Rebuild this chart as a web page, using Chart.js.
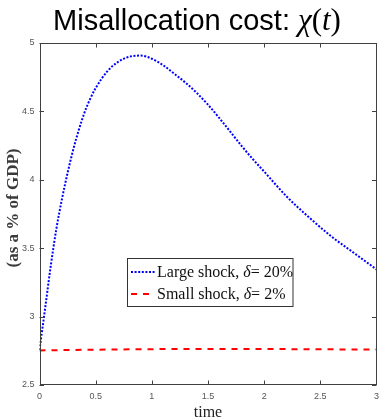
<!DOCTYPE html>
<html>
<head>
<meta charset="utf-8">
<script src="https://cdn.jsdelivr.net/npm/chart.js@4.4.1/dist/chart.umd.min.js"></script>
<style>
  html, body { margin: 0; padding: 0; background: #ffffff; }
  #wrap { width: 385px; height: 420px; }
</style>
</head>
<body>
<div id="wrap"><canvas id="c" width="385" height="420"></canvas></div>
<script>
// ---- data ----
const largeTime  = [0, 0.05, 0.1, 0.15, 0.2, 0.25, 0.3, 0.35, 0.4, 0.45, 0.5, 0.6, 0.7, 0.8, 0.9, 1.0, 1.1, 1.2, 1.3, 1.4, 1.5, 1.6, 1.7, 1.8, 1.9, 2.0, 2.2, 2.4, 2.6, 2.8, 3.0];
const largeValue = [2.756, 3.06, 3.37, 3.64, 3.86, 4.05, 4.22, 4.365, 4.49, 4.59, 4.67, 4.79, 4.862, 4.900, 4.908, 4.885, 4.838, 4.775, 4.71, 4.635, 4.549, 4.452, 4.35, 4.247, 4.15, 4.06, 3.878, 3.725, 3.585, 3.465, 3.345];
const smallTime  = [0, 0.5, 1, 1.5, 2, 2.5, 3];
const smallValue = [2.753, 2.758, 2.762, 2.764, 2.763, 2.761, 2.759];
const seriesNames = ["Large shock", "Small shock"];
const seriesDelta = ["20%", "2%"];
const xTickValues = [0, 0.5, 1, 1.5, 2, 2.5, 3];
const xTickLabels = ["0", "0.5", "1", "1.5", "2", "2.5", "3"];
const yTickValues = [2.5, 3, 3.5, 4, 4.5, 5];
const yTickLabels = ["2.5", "3", "3.5", "4", "4.5", "5"];
const titleText = "Misallocation cost: ";
const xTitle = "time";
const yTitle = "(as a % of GDP)";

const toPts = (xs, ys) => xs.map((x, i) => ({ x: x, y: ys[i] }));

const frameColor = "#404040";
const tickColor = "#555555";

const decorPlugin = {
  id: "decor",
  afterDraw(chart) {
    const ctx = chart.ctx;
    const a = chart.chartArea;
    const xs = chart.scales.x, ys = chart.scales.y;
    ctx.save();
    // frame
    ctx.strokeStyle = frameColor;
    ctx.lineWidth = 1;
    ctx.strokeRect(Math.round(a.left) + 0.5, Math.round(a.top) + 0.5, Math.round(a.right - a.left) - 1, Math.round(a.bottom - a.top) - 1);
    // inward ticks
    const tl = 4.5;
    ctx.beginPath();
    xTickValues.forEach(v => {
      const px = Math.round(xs.getPixelForValue(v)) + 0.5;
      ctx.moveTo(px, a.bottom); ctx.lineTo(px, a.bottom - tl);
      ctx.moveTo(px, a.top); ctx.lineTo(px, a.top + tl);
    });
    yTickValues.forEach(v => {
      const py = Math.round(ys.getPixelForValue(v)) + 0.5;
      ctx.moveTo(a.left, py); ctx.lineTo(a.left + tl, py);
      ctx.moveTo(a.right, py); ctx.lineTo(a.right - tl, py);
    });
    ctx.stroke();

    // title
    ctx.fillStyle = "#000000";
    ctx.textBaseline = "alphabetic";
    const f1 = "29px 'Liberation Sans', Arial, sans-serif";
    const fi = "italic 31px 'Liberation Serif', 'Times New Roman', serif";
    const fu = "31px 'Liberation Serif', 'Times New Roman', serif";
    const parts = [[titleText, f1], ["\u03C7", fi], ["(", fu], ["t", fi], [")", fu]];
    let total = 0;
    parts.forEach(p => { ctx.font = p[1]; total += ctx.measureText(p[0]).width; });
    let x = 197 - total / 2;
    parts.forEach(p => {
      ctx.font = p[1];
      ctx.fillText(p[0], x, 30);
      x += ctx.measureText(p[0]).width;
    });

    // axis titles
    ctx.fillStyle = "#222222";
    ctx.font = "16px 'Liberation Serif', 'Times New Roman', serif";
    ctx.textAlign = "center";
    ctx.textBaseline = "alphabetic";
    ctx.fillText(xTitle, (a.left + a.right) / 2, 417);
    ctx.save();
    ctx.translate(18, 208);
    ctx.rotate(-Math.PI / 2);
    ctx.font = "bold 17px 'Liberation Serif', 'Times New Roman', serif";
    ctx.fillStyle = "#3a3a3a";
    ctx.textBaseline = "alphabetic";
    ctx.fillText(yTitle, 0, 0);
    ctx.restore();

    // legend
    const bx = 127.5, by = 258.5, bw = 165.5, bh = 48;
    ctx.fillStyle = "#ffffff";
    ctx.fillRect(bx, by, bw, bh);
    ctx.strokeStyle = "#333333";
    ctx.lineWidth = 1;
    ctx.strokeRect(bx, by, bw, bh);
    const rows = [272, 294];
    chart.data.datasets.forEach((ds, i) => {
      const cy = rows[i];
      ctx.save();
      ctx.strokeStyle = ds.borderColor;
      ctx.lineWidth = ds.borderWidth;
      ctx.setLineDash(ds.borderDash);
      ctx.beginPath();
      ctx.moveTo(131, cy);
      ctx.lineTo(155, cy);
      ctx.stroke();
      ctx.restore();
      ctx.fillStyle = "#111111";
      ctx.textAlign = "left";
      ctx.textBaseline = "middle";
      const lp = [[seriesNames[i] + ", ", "16px 'Liberation Serif', serif"],
                  ["\u03B4", "italic 16px 'Liberation Serif', serif"],
                  ["= " + seriesDelta[i], "16px 'Liberation Serif', serif"]];
      let tx = 157;
      lp.forEach(p => {
        ctx.font = p[1];
        ctx.fillText(p[0], tx, cy + 1);
        tx += ctx.measureText(p[0]).width;
      });
    });
    ctx.restore();
  }
};

new Chart(document.getElementById("c"), {
  type: "line",
  data: {
    datasets: [
      {
        label: seriesNames[0],
        data: toPts(largeTime, largeValue),
        borderColor: "#0000ff",
        borderWidth: 2,
        borderDash: [2, 1.6],
        pointRadius: 0,
        fill: false,
        cubicInterpolationMode: "monotone"
      },
      {
        label: seriesNames[1],
        data: toPts(smallTime, smallValue),
        borderColor: "#ff0000",
        borderWidth: 2,
        borderDash: [6, 6],
        pointRadius: 0,
        fill: false,
        cubicInterpolationMode: "monotone"
      }
    ]
  },
  options: {
    responsive: false,
    devicePixelRatio: 1,
    animation: false,
    layout: { padding: { top: 43, right: 4, left: 0, bottom: 0 } },
    plugins: { legend: { display: false }, tooltip: { enabled: false }, title: { display: false } },
    scales: {
      x: {
        type: "linear",
        min: 0, max: 3,
        afterBuildTicks: s => { s.ticks = xTickValues.map(v => ({ value: v })); },
        afterFit: s => { s.height = 35; },
        ticks: {
          padding: 6,
          color: tickColor,
          font: { family: "'Liberation Sans', Arial, sans-serif", size: 9 },
          maxRotation: 0,
          callback: (v) => { const i = xTickValues.indexOf(v); return i >= 0 ? xTickLabels[i] : ""; }
        },
        grid: { display: false, drawTicks: false },
        border: { display: false }
      },
      y: {
        type: "linear",
        min: 2.5, max: 5,
        afterBuildTicks: s => { s.ticks = yTickValues.map(v => ({ value: v })); },
        afterFit: s => { s.width = 39.5; },
        ticks: {
          padding: 5,
          color: tickColor,
          font: { family: "'Liberation Sans', Arial, sans-serif", size: 9 },
          callback: (v) => { const i = yTickValues.indexOf(v); return i >= 0 ? yTickLabels[i] : ""; }
        },
        grid: { display: false, drawTicks: false },
        border: { display: false }
      }
    }
  },
  plugins: [decorPlugin]
});
</script>
</body>
</html>
